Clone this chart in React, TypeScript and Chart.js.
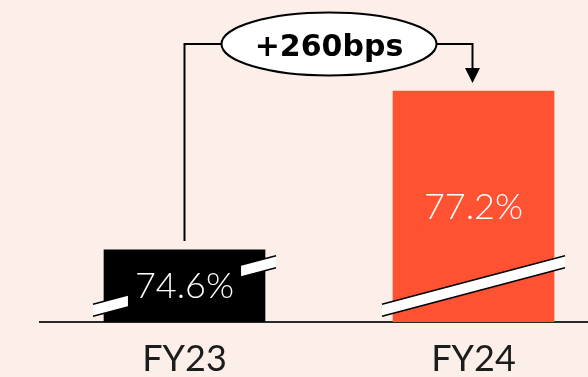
import { useEffect, useRef } from "react";
import { Chart, registerables } from "chart.js";

Chart.register(...registerables);

// Gross margin by fiscal year
const categories = ["FY23", "FY24"];
const grossMargin = [74.6, 77.2];
const barColors = ["#000000", "#ff5233"];

// Visible window of the value axis (bars sit on a broken axis)
const axisMin = 73.42;
const axisMax = 78.69;

const PAGE_BG = "#fcefe9";
const VIEW_W = 588;
const VIEW_H = 377;
// the plot runs on past the right edge of the view, so the canvas is wider
const CANVAS_W = 618;

const fmtPct = (v: number) => `${v.toFixed(1)}%`;
const fmtBps = (from: number, to: number) => {
  const bps = Math.round((to - from) * 100);
  return `${bps >= 0 ? "+" : ""}${bps}bps`;
};

const backgroundPlugin = {
  id: "pageBackground",
  beforeDraw(chart: any) {
    const { ctx, width, height } = chart;
    ctx.save();
    ctx.fillStyle = PAGE_BG;
    ctx.fillRect(0, 0, width, height);
    ctx.restore();
  },
};

// Axis-break bands and in-bar value labels
const barDecorPlugin = {
  id: "barDecor",
  afterDatasetsDraw(chart: any) {
    const { ctx, chartArea } = chart;
    const meta = chart.getDatasetMeta(0);
    const values = chart.data.datasets[0].data as number[];
    meta.data.forEach((el: any, i: number) => {
      const x = el.x as number;
      const y = el.y as number;
      // bars start far below the visible window; cut them at the axis line
      const base = Math.min(el.base as number, chartArea.bottom);
      const width = el.width as number;
      const left = x - width / 2;

      // diagonal break band across the lower part of the bar
      const half = width / 2 + 11;
      const cy = base - 36;
      const dy = half * 0.265;
      const t = 6;
      ctx.save();
      ctx.beginPath();
      ctx.moveTo(x - half, cy + dy - t);
      ctx.lineTo(x + half, cy - dy - t);
      ctx.lineTo(x + half, cy - dy + t);
      ctx.lineTo(x - half, cy + dy + t);
      ctx.closePath();
      ctx.fillStyle = "#ffffff";
      ctx.fill();
      ctx.strokeStyle = "#000000";
      ctx.lineWidth = 1.5;
      ctx.beginPath();
      ctx.moveTo(x - half, cy + dy - t);
      ctx.lineTo(x + half, cy - dy - t);
      ctx.moveTo(x - half, cy + dy + t);
      ctx.lineTo(x + half, cy - dy + t);
      ctx.stroke();
      ctx.restore();

      // value label on a patch of bar colour
      const text = fmtPct(values[i]);
      ctx.save();
      ctx.font = "300 36px Lato";
      const tw = ctx.measureText(text).width;
      const ly = (y + base) / 2 - 1;
      ctx.beginPath();
      ctx.rect(left, y, width, base - y);
      ctx.clip();
      ctx.fillStyle = barColors[i];
      ctx.fillRect(x - tw / 2 - 7, ly - 22, tw + 14, 44);
      ctx.restore();

      ctx.save();
      ctx.font = "300 36px Lato";
      ctx.fillStyle = "#ffffff";
      ctx.textAlign = "center";
      ctx.textBaseline = "alphabetic";
      ctx.fillText(text, x, ly + 13);
      ctx.restore();
    });
  },
};

// Bracket with the year-over-year change callout
const changeBracketPlugin = {
  id: "changeBracket",
  afterDraw(chart: any) {
    const { ctx, chartArea } = chart;
    const meta = chart.getDatasetMeta(0);
    if (meta.data.length < 2) return;
    const a = meta.data[0];
    const b = meta.data[1];
    const values = chart.data.datasets[0].data as number[];
    const lineY = chartArea.top + 44;
    const cx = (a.x + b.x) / 2;
    const rx = 107.5;
    const ry = 31.5;

    ctx.save();
    ctx.strokeStyle = "#000000";
    ctx.fillStyle = "#000000";
    ctx.lineWidth = 2;
    ctx.beginPath();
    ctx.moveTo(a.x, a.y - 9);
    ctx.lineTo(a.x, lineY);
    ctx.lineTo(cx - rx, lineY);
    ctx.moveTo(cx + rx, lineY);
    ctx.lineTo(b.x - 1, lineY);
    ctx.lineTo(b.x - 1, b.y - 22);
    ctx.stroke();

    // arrow head
    ctx.beginPath();
    ctx.moveTo(b.x - 8.5, b.y - 23);
    ctx.lineTo(b.x + 6.5, b.y - 23);
    ctx.lineTo(b.x - 1, b.y - 8);
    ctx.closePath();
    ctx.fill();

    // callout ellipse
    ctx.beginPath();
    ctx.ellipse(cx, lineY, rx, ry, 0, 0, Math.PI * 2);
    ctx.fillStyle = "#ffffff";
    ctx.fill();
    ctx.stroke();

    ctx.font = 'bold 30px "DejaVu Sans"';
    ctx.fillStyle = "#000000";
    ctx.textAlign = "center";
    ctx.textBaseline = "alphabetic";
    ctx.fillText(fmtBps(values[0], values[1]), cx, lineY + 11.5);
    ctx.restore();
  },
};

export default function App() {
  const canvasRef = useRef<HTMLCanvasElement | null>(null);

  useEffect(() => {
    let chart: Chart | null = null;
    let cancelled = false;

    const build = () => {
      if (cancelled || !canvasRef.current) return;
      chart = new Chart(canvasRef.current, {
        type: "bar",
        data: {
          labels: categories,
          datasets: [
            {
              data: grossMargin,
              backgroundColor: barColors,
              borderWidth: 0,
              barThickness: 161,
            },
          ],
        },
        options: {
          responsive: false,
          animation: false,
          devicePixelRatio: 1,
          events: [],
          layout: { padding: { left: 40, right: 0, top: 0, bottom: -20 } },
          plugins: {
            legend: { display: false },
            tooltip: { enabled: false },
          },
          scales: {
            x: {
              grid: { display: false, drawTicks: false },
              border: { display: true, color: "#2b2826", width: 2 },
              ticks: {
                color: "#1c1c1c",
                padding: 18,
                font: { family: "Lato", size: 36, weight: 400, lineHeight: 39 / 36 },
              },
            },
            y: {
              display: false,
              min: axisMin,
              max: axisMax,
            },
          },
        },
        plugins: [backgroundPlugin, barDecorPlugin, changeBracketPlugin],
      });
    };

    const fontsReady = (document as any).fonts
      ? Promise.all([
          (document as any).fonts.load("300 36px Lato"),
          (document as any).fonts.load("400 36px Lato"),
          (document as any).fonts.load('bold 30px "DejaVu Sans"'),
        ]).catch(() => undefined)
      : Promise.resolve();
    fontsReady.then(build);

    return () => {
      cancelled = true;
      if (chart) chart.destroy();
    };
  }, []);

  return (
    <div
      style={{
        position: "fixed",
        left: 0,
        top: 0,
        width: VIEW_W,
        height: VIEW_H,
        background: PAGE_BG,
        overflow: "hidden",
      }}
    >
      <canvas
        ref={canvasRef}
        width={CANVAS_W}
        height={VIEW_H}
        style={{ display: "block", width: CANVAS_W, height: VIEW_H }}
      />
    </div>
  );
}
